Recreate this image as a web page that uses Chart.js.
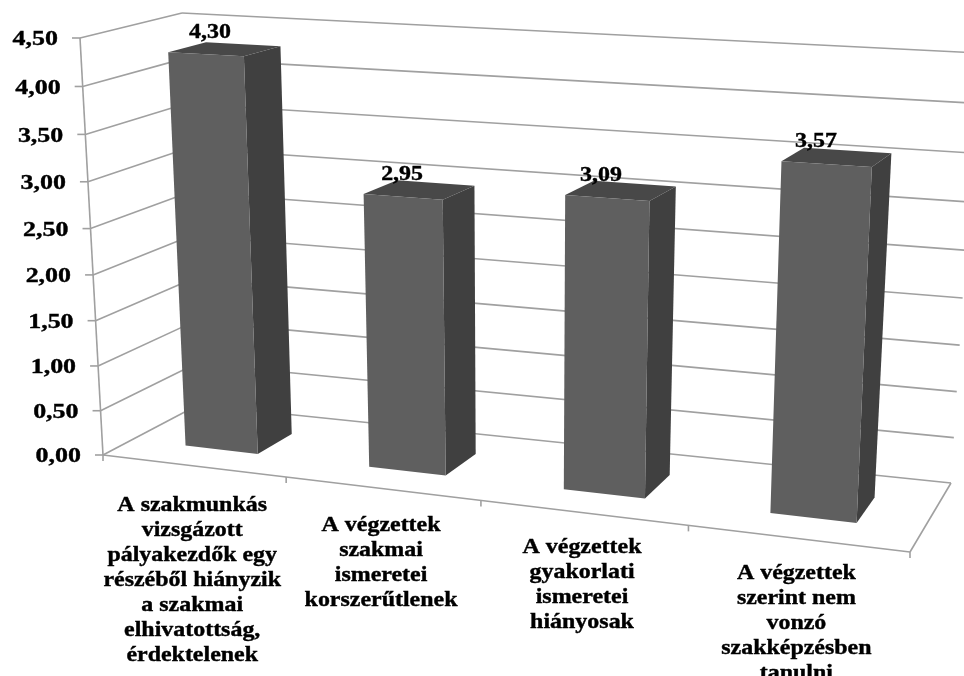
<!DOCTYPE html>
<html>
<head>
<meta charset="utf-8">
<style>
html, body { margin: 0; padding: 0; background: #fff; overflow: hidden; }
#wrap { width: 964px; height: 676px; }
</style>
<script src="https://cdn.jsdelivr.net/npm/chart.js@4"></script>
</head>
<body>
<div id="wrap"><canvas id="myChart" width="964" height="676"></canvas></div>
<script>
const categories = [
	['A szakmunkás', 'vizsgázott', 'pályakezdők egy', 'részéből hiányzik', 'a szakmai', 'elhivatottság,', 'érdektelenek'],
	['A végzettek', 'szakmai', 'ismeretei', 'korszerűtlenek'],
	['A végzettek', 'gyakorlati', 'ismeretei', 'hiányosak'],
	['A végzettek', 'szerint nem', 'vonzó', 'szakképzésben', 'tanulni']
];
const values = [4.30, 2.95, 3.09, 3.57];
const valueLabels = ['4,30', '2,95', '3,09', '3,57'];
const yTickLabels = ['0,00', '0,50', '1,00', '1,50', '2,00', '2,50', '3,00', '3,50', '4,00', '4,50'];

// the 3d box as seen on the page: bottom left, bottom right, top right, top left
const frontPlane = [[103, 455], [910, 552], [932, 81], [80, 38]];
const backPlane = [[198, 405], [951, 483], [978, 53], [182, 13]];

// nudges for the text, the original labels were placed by hand
const valueLabelShift = [[4, -10], [5, -6], [7, -5], [12, -6]];
const categoryLabelDrop = [40, 37, 35, 35];

// unit square to a four sided shape
function homography(q) {
	const dx1 = q[1][0] - q[2][0], dx2 = q[3][0] - q[2][0], sx = q[0][0] - q[1][0] + q[2][0] - q[3][0];
	const dy1 = q[1][1] - q[2][1], dy2 = q[3][1] - q[2][1], sy = q[0][1] - q[1][1] + q[2][1] - q[3][1];
	const det = dx1 * dy2 - dx2 * dy1;
	const g = (sx * dy2 - dx2 * sy) / det;
	const h = (dx1 * sy - sx * dy1) / det;
	return {
		a: q[1][0] - q[0][0] + g * q[1][0], b: q[3][0] - q[0][0] + h * q[3][0], c: q[0][0],
		d: q[1][1] - q[0][1] + g * q[1][1], e: q[3][1] - q[0][1] + h * q[3][1], f: q[0][1],
		g: g, h: h
	};
}

// s along the categories, r up the values, t into the depth, all 0..1
function project(s, r, t) {
	const q = frontPlane.map((p, i) => [p[0] + (backPlane[i][0] - p[0]) * t, p[1] + (backPlane[i][1] - p[1]) * t]);
	const m = homography(q);
	const w = m.g * s + m.h * r + 1;
	return [(m.a * s + m.b * r + m.c) / w, (m.d * s + m.e * r + m.f) / w];
}

function poly(ctx, pts, fill) {
	ctx.beginPath();
	pts.forEach((p, i) => i ? ctx.lineTo(p[0], p[1]) : ctx.moveTo(p[0], p[1]));
	ctx.closePath();
	ctx.fillStyle = fill;
	ctx.fill();
}

function line(ctx, a, b) {
	ctx.beginPath();
	ctx.moveTo(a[0], a[1]);
	ctx.lineTo(b[0], b[1]);
	ctx.stroke();
}

// the reference text is stretched sideways and a bit heavy
function stretchedText(ctx, text, x, y, font, stretch, align) {
	ctx.save();
	ctx.translate(x, y);
	ctx.scale(stretch, 1);
	ctx.font = font;
	ctx.textAlign = align;
	ctx.textBaseline = 'middle';
	ctx.fillStyle = '#000';
	ctx.strokeStyle = '#000';
	ctx.lineWidth = 0.4;
	ctx.fillText(text, 0, 0);
	ctx.strokeText(text, 0, 0);
	ctx.restore();
}

const box3d = {
	id: 'box3d',
	beforeDatasetsDraw(chart) {
		const ctx = chart.ctx;
		const xs = chart.scales.x;
		const ys = chart.scales.y;
		const toS = (px) => (px - xs.left) / xs.width;
		const toR = (py) => (ys.bottom - py) / ys.height;

		ctx.save();
		ctx.strokeStyle = '#a0a0a0';
		ctx.lineWidth = 1.6;

		// walls
		ys.ticks.forEach((tick, i) => {
			const r = toR(ys.getPixelForValue(tick.value));
			const front = project(0, r, 0);
			const back = project(0, r, 1);
			line(ctx, front, back);
			line(ctx, back, project(1, r, 1));
			line(ctx, front, [front[0] - 8, front[1]]);
			stretchedText(ctx, yTickLabels[i], front[0] - 22, front[1] + 1.5, 'bold 22px "Liberation Serif"', 1.18, 'right');
		});
		line(ctx, project(0, 0, 0), project(0, 1, 0));

		// floor
		line(ctx, project(0, 0, 0), project(1, 0, 0));
		line(ctx, project(1, 0, 0), project(1, 0, 1));
		for (let i = 0; i <= categories.length; i++) {
			const p = project(i / categories.length, 0, 0);
			line(ctx, p, [p[0], p[1] + 6]);
		}

		// bars, from the native bar elements
		const tNear = 0.31, tFar = 0.69;
		chart.getDatasetMeta(0).data.forEach((bar, i) => {
			const s0 = toS(bar.x - bar.width / 2);
			const s1 = toS(bar.x + bar.width / 2);
			const r0 = toR(bar.base);
			const r1 = toR(bar.y);
			const fl = project(s0, r1, tNear), fr = project(s1, r1, tNear);
			const bl = project(s0, r1, tFar), br = project(s1, r1, tFar);
			poly(ctx, [fl, fr, br, bl], '#484848');
			poly(ctx, [fr, br, project(s1, r0, tFar), project(s1, r0, tNear)], '#404040');
			poly(ctx, [fl, fr, project(s1, r0, tNear), project(s0, r0, tNear)], bar.options.backgroundColor);
			const shift = valueLabelShift[i];
			stretchedText(ctx, valueLabels[i], bl[0] + shift[0], bl[1] + shift[1], 'bold 21px "Liberation Serif"', 1.14, 'center');
		});

		// category labels below the front edge
		categories.forEach((lines, i) => {
			const p = project(toS(xs.getPixelForValue(i)), 0, 0);
			lines.forEach((text, k) => {
				stretchedText(ctx, text, p[0] - 1, p[1] + categoryLabelDrop[i] + k * 25, 'bold 21px "Liberation Serif"', 1.14, 'center');
			});
		});
		ctx.restore();
		return false;
	}
};

var ctx = document.getElementById('myChart').getContext('2d');

var myChart = new Chart(ctx, {
	type: 'bar',
	data: {
		labels: categories,
		datasets: [
			{
				label: 'Átlag',
				data: values,
				backgroundColor: '#5f5f5f',
				barPercentage: 0.4,
				categoryPercentage: 1
			}
		]
	},
	options: {
		responsive: false,
		animation: false,
		events: [],
		plugins: { legend: { display: false }, tooltip: { enabled: false } },
		scales: {
			x: { display: false },
			y: { display: false, min: 0, max: 4.5, ticks: { stepSize: 0.5 } }
		}
	},
	plugins: [box3d]
});
</script>
</body>
</html>
